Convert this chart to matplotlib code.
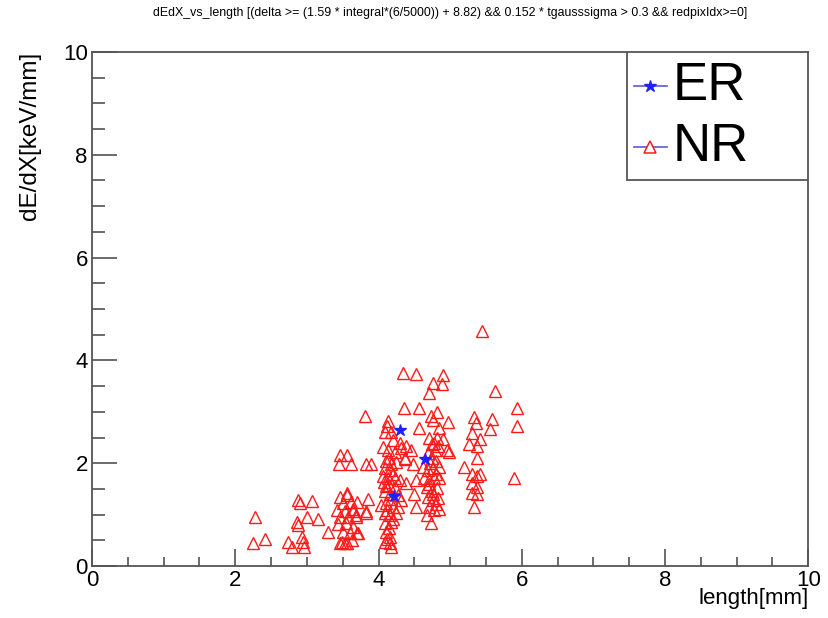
import numpy as np
import matplotlib
matplotlib.use('Agg')
import matplotlib.pyplot as plt
from matplotlib.lines import Line2D
from matplotlib.patches import Rectangle
from matplotlib.ticker import MultipleLocator

plt.rcParams['font.family'] = ['Liberation Sans', 'DejaVu Sans']

# ---- data ----
# NR (red open triangles)
nr_length = [
    # sparse, low length
    2.27, 2.25, 2.41, 2.73, 2.79, 2.93, 2.94, 2.96, 2.87, 2.90, 3.07, 2.86, 2.87, 3.00, 3.15, 3.29,
    # cluster around 3.5
    3.46, 3.56, 3.50, 3.61, 3.42, 3.53, 3.64, 3.46, 3.57, 3.68, 3.43, 3.54, 3.64, 3.50, 3.60, 3.71,
    3.49, 3.56, 3.56, 3.70, 3.65, 3.68, 3.70, 3.63, 3.46, 3.53, 3.85, 3.83, 3.82,
    3.46, 3.56, 3.45, 3.61, 3.82, 3.89, 3.81,
    # column around 4.15
    4.13, 4.12, 4.09, 4.18, 4.20, 4.30, 4.06, 4.13, 4.23, 4.32, 4.37, 4.11, 4.18, 4.25, 4.09, 4.16,
    4.06, 4.13, 4.23, 4.30, 4.39, 4.07, 4.14, 4.23, 4.09, 4.16, 4.27, 4.32, 4.04, 4.11, 4.20, 4.27,
    4.09, 4.16, 4.25, 4.09, 4.18, 4.11, 4.16, 4.09, 4.16, 4.17, 4.12,
    4.14, 4.20, 4.10, 4.18, 4.12, 4.20, 4.14,
    4.38, 4.46, 4.37, 4.48, 4.53, 4.50, 4.53,
    4.34, 4.53, 4.35, 4.57, 4.56,
    # column around 4.75
    4.90, 4.76, 4.88, 4.70, 4.81, 4.73, 4.76, 4.97, 4.84, 4.70, 4.81, 4.90, 4.74, 4.83, 4.79, 4.69,
    4.95, 4.99, 4.62, 4.69, 4.76, 4.85, 4.64, 4.71, 4.78, 4.85, 4.67, 4.74, 4.81, 4.69, 4.76, 4.83,
    4.71, 4.78, 4.85, 4.73,
    4.78, 4.74, 4.80, 4.72, 4.80, 4.70, 4.76, 4.80, 4.68,
    # column around 5.35 and far right
    5.44, 5.63, 5.94, 5.93, 5.89, 5.33, 5.36, 5.58, 5.56, 5.27, 5.37, 5.41, 5.31, 5.38, 5.20, 5.30,
    5.37, 5.41, 5.31, 5.38, 5.30, 5.37, 5.33,
]
nr_dedx = [
    0.95, 0.45, 0.52, 0.47, 0.37, 0.56, 0.47, 0.37, 1.28, 1.22, 1.26, 0.85, 0.79, 0.95, 0.91, 0.66,
    1.34, 1.38, 1.22, 1.24, 1.09, 1.07, 1.12, 0.95, 0.95, 0.99, 0.81, 0.83, 0.76, 0.66, 0.64, 0.64,
    0.47, 0.45, 1.43, 1.24, 1.08, 0.95, 0.64, 0.50, 0.45, 0.45, 1.30, 1.08, 1.03,
    2.17, 2.17, 1.98, 1.98, 1.98, 1.98, 2.91,
    2.83, 2.73, 2.60, 2.60, 2.46, 2.40, 2.31, 2.25, 2.21, 2.29, 2.11, 2.05, 1.99, 2.02, 1.90, 1.86,
    1.76, 1.72, 1.72, 1.67, 1.61, 1.63, 1.57, 1.53, 1.47, 1.41, 1.38, 1.28, 1.18, 1.22, 1.14, 1.14,
    1.03, 0.99, 1.03, 0.83, 0.85, 0.66, 0.56, 0.47, 0.45, 0.37, 0.52,
    2.10, 1.80, 1.55, 1.30, 1.10, 0.92, 0.75,
    2.34, 2.25, 2.09, 1.99, 1.67, 1.41, 1.14,
    3.76, 3.74, 3.08, 3.08, 2.69,
    3.72, 3.57, 3.55, 3.37, 3.00, 2.91, 2.85, 2.81, 2.69, 2.50, 2.50, 2.48, 2.38, 2.34, 2.25, 2.19,
    2.25, 2.21, 1.92, 1.86, 1.90, 1.92, 1.72, 1.67, 1.71, 1.72, 1.53, 1.47, 1.51, 1.34, 1.28, 1.32,
    1.14, 1.09, 1.12, 0.83,
    2.40, 2.10, 2.05, 2.00, 1.80, 1.60, 1.40, 1.20, 1.00,
    4.57, 3.41, 3.08, 2.73, 1.71, 2.89, 2.79, 2.87, 2.67, 2.38, 2.34, 2.48, 2.58, 2.11, 1.92, 1.80,
    1.76, 1.80, 1.61, 1.53, 1.43, 1.40, 1.14,
]
# ER (blue stars)
er_length = [4.30, 4.21, 4.65]
er_dedx = [2.64, 1.36, 2.09]

title = ('dEdX_vs_length [(delta >= (1.59 * integral*(6/5000)) + 8.82) && '
         '0.152 * tgausssigma > 0.3 && redpixIdx>=0]')

fig = plt.figure(figsize=(8.29, 6.18), dpi=100)
ax = fig.add_axes([0.111, 0.084, 0.864, 0.832])

ax.plot(nr_length, nr_dedx, ls='none', marker='^', ms=8.5, mfc='none', mec='#ff1a1a', mew=1.0)
ax.plot(er_length, er_dedx, ls='none', marker='*', ms=9, color='#2020ff')

ax.set_xlim(0, 10)
ax.set_ylim(0, 10)
ax.xaxis.set_major_locator(MultipleLocator(2))
ax.xaxis.set_minor_locator(MultipleLocator(0.5))
ax.yaxis.set_major_locator(MultipleLocator(2))
ax.yaxis.set_minor_locator(MultipleLocator(0.5))
ax.tick_params(axis='x', which='major', direction='in', length=12, width=1.1, color='#444444',
               labelsize=16, pad=3)
ax.tick_params(axis='x', which='minor', direction='in', length=6.5, width=1.1, color='#444444')
ax.tick_params(axis='y', which='major', direction='in', length=18, width=1.1, color='#444444',
               labelsize=16, pad=3)
ax.tick_params(axis='y', which='minor', direction='in', length=9, width=1.1, color='#444444')
for s in ax.spines.values():
    s.set_color('#555555')
    s.set_linewidth(1.3)

ax.set_xlabel('length[mm]', loc='right', fontsize=16, labelpad=-2)
ax.set_ylabel('dE/dX[keV/mm]', loc='top', fontsize=17.5, labelpad=16)

fig.text(0.543, 0.979, title, ha='center', va='center', fontsize=8.9)

# legend box, drawn by hand to match the ROOT TLegend
ax.add_patch(Rectangle((0.747, 0.751), 0.253, 0.249, transform=ax.transAxes,
                       fc='white', ec='#555555', lw=1.3, zorder=5))
for yrow, label, mk, mc in [(0.934, 'ER', '*', '#2020ff'), (0.815, 'NR', '^', '#ff1a1a')]:
    ax.add_line(Line2D([0.756, 0.803], [yrow, yrow], transform=ax.transAxes,
                       color='#5a5ad6', lw=1.2, zorder=6))
    if mk == '*':
        ax.add_line(Line2D([0.7795], [yrow], transform=ax.transAxes, marker=mk, ms=9,
                           color=mc, ls='none', zorder=7))
    else:
        ax.add_line(Line2D([0.7795], [yrow], transform=ax.transAxes, marker=mk, ms=8,
                           mfc='white', mec=mc, mew=1.1, ls='none', zorder=7))
    ax.text(0.810, yrow, label, transform=ax.transAxes, ha='left', va='center',
            fontsize=38, zorder=7)

fig.savefig('out.png', dpi=100)
